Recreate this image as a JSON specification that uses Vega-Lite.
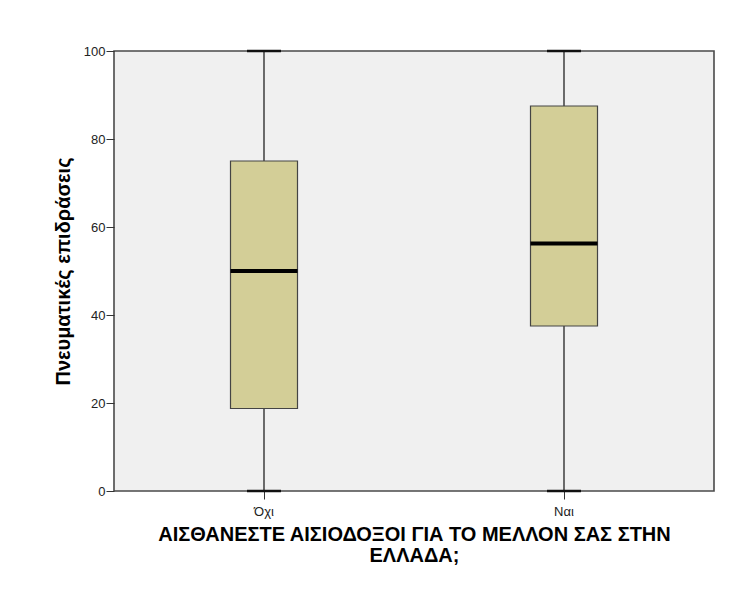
{
  "$schema": "https://vega.github.io/schema/vega-lite/v6.json",
  "width": 600,
  "height": 440,
  "autosize": "none",
  "padding": {"left": 114, "top": 51, "right": 30, "bottom": 111},
  "background": "white",
  "data": {
    "values": [
      {"group": "Όχι", "min": 0, "q1": 18.75, "median": 50, "q3": 75, "max": 100},
      {"group": "Ναι", "min": 0, "q1": 37.5, "median": 56.25, "q3": 87.5, "max": 100}
    ]
  },
  "encoding": {
    "x": {
      "field": "group",
      "type": "nominal",
      "sort": ["Όχι", "Ναι"],
      "scale": {"paddingInner": 0, "paddingOuter": 0},
      "axis": {
        "title": ["ΑΙΣΘΑΝΕΣΤΕ ΑΙΣΙΟΔΟΞΟΙ ΓΙΑ ΤΟ ΜΕΛΛΟΝ ΣΑΣ ΣΤΗΝ", "ΕΛΛΑΔΑ;"],
        "labelAngle": 0,
        "labelFontSize": 13,
        "tickSize": 8,
        "labelPadding": 6,
        "titlePadding": 6,
        "titleFontSize": 20,
        "titleLineHeight": 21
      }
    }
  },
  "layer": [
    {
      "mark": {"type": "rule", "color": "#111111", "strokeWidth": 1.2},
      "encoding": {
        "y": {
          "field": "min",
          "type": "quantitative",
          "scale": {"domain": [0, 100], "nice": false, "zero": true},
          "axis": {
            "title": "Πνευματικές επιδράσεις",
            "values": [0, 20, 40, 60, 80, 100],
            "labelFontSize": 13,
            "tickSize": 8,
            "labelPadding": 1,
            "titlePadding": 10,
            "titleFontSize": 20
          }
        },
        "y2": {"field": "max"}
      }
    },
    {
      "mark": {"type": "bar", "width": 67, "fill": "#D3CE97", "stroke": "#444444", "strokeWidth": 1.2},
      "encoding": {
        "y": {"field": "q1", "type": "quantitative"},
        "y2": {"field": "q3"}
      }
    },
    {
      "mark": {"type": "tick", "size": 67, "thickness": 4, "color": "#000000", "opacity": 1},
      "encoding": {"y": {"field": "median", "type": "quantitative"}}
    },
    {
      "mark": {"type": "tick", "size": 34, "thickness": 2.5, "color": "#111111", "opacity": 1},
      "encoding": {"y": {"field": "max", "type": "quantitative"}}
    },
    {
      "mark": {"type": "tick", "size": 34, "thickness": 2.5, "color": "#111111", "opacity": 1},
      "encoding": {"y": {"field": "min", "type": "quantitative"}}
    }
  ],
  "config": {
    "view": {"fill": "#F0F0F0", "stroke": "#4a4a4a", "strokeWidth": 1.6},
    "axis": {
      "domain": false,
      "grid": false,
      "tickColor": "#333333",
      "tickWidth": 1,
      "labelFont": "Liberation Sans",
      "labelColor": "#222222",
      "titleFont": "Liberation Sans",
      "titleFontWeight": "bold",
      "titleColor": "#000000"
    }
  }
}
